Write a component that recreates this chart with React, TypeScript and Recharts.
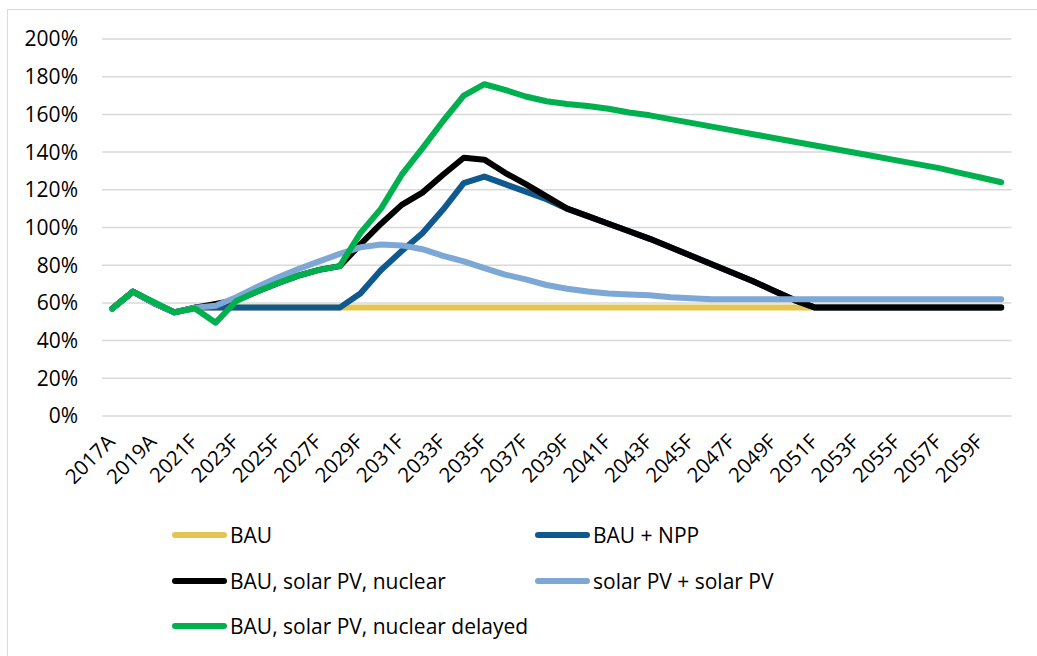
import React from 'react';
import { LineChart, Line, XAxis, YAxis, CartesianGrid } from 'recharts';

const years = [
  '2017A', '2018A', '2019A', '2020A', '2021F', '2022F', '2023F', '2024F', '2025F', '2026F',
  '2027F', '2028F', '2029F', '2030F', '2031F', '2032F', '2033F', '2034F', '2035F', '2036F',
  '2037F', '2038F', '2039F', '2040F', '2041F', '2042F', '2043F', '2044F', '2045F', '2046F',
  '2047F', '2048F', '2049F', '2050F', '2051F', '2052F', '2053F', '2054F', '2055F', '2056F',
  '2057F', '2058F', '2059F', '2060F',
];

const bau = [
  57, 66, 60, 55, 57.5, 57.5, 57.5, 57.5, 57.5, 57.5,
  57.5, 57.5, 57.5, 57.5, 57.5, 57.5, 57.5, 57.5, 57.5, 57.5,
  57.5, 57.5, 57.5, 57.5, 57.5, 57.5, 57.5, 57.5, 57.5, 57.5,
  57.5, 57.5, 57.5, 57.5, 57.5, 57.5, 57.5, 57.5, 57.5, 57.5,
  57.5, 57.5, 57.5, 57.5,
];

const bauNpp = [
  57, 66, 60, 55, 57.5, 57.5, 57.5, 57.5, 57.5, 57.5,
  57.5, 57.5, 65, 77.5, 87.5, 97, 109.5, 123.5, 127, 123,
  119, 115, 110, 106, 102, 98, 94, 89.5, 85, 80.5,
  76, 71.5, 66.5, 61.5, 57.5, 57.5, 57.5, 57.5, 57.5, 57.5,
  57.5, 57.5, 57.5, 57.5,
];

const bauSolarNuclear = [
  57, 66, 60, 55, 57.5, 59.5, 61.5, 66, 70.5, 74.5,
  77.5, 79.5, 91, 102, 112, 118.5, 128, 137, 136, 129,
  123, 116.5, 110, 106, 102, 98, 94, 89.5, 85, 80.5,
  76, 71.5, 66.5, 61.5, 57.5, 57.5, 57.5, 57.5, 57.5, 57.5,
  57.5, 57.5, 57.5, 57.5,
];

const solarPv = [
  57, 66, 60, 55, 57.5, 58.5, 63, 68.5, 73.5, 78,
  82, 86, 89.5, 91, 90.5, 88.5, 85, 82, 78.5, 75,
  72.5, 69.5, 67.5, 66, 65, 64.5, 64, 63, 62.5, 62,
  62, 62, 62, 62, 62, 62, 62, 62, 62, 62,
  62, 62, 62, 62,
];

const delayed = [
  57, 66, 60.5, 55, 57, 49.5, 61, 66, 70.5, 74.5,
  77.5, 79.5, 97, 110, 128, 142, 156.5, 170, 176, 173,
  169.5, 167, 165.5, 164.5, 163, 161, 159.5, 157.5, 155.5, 153.5,
  151.5, 149.5, 147.5, 145.5, 143.5, 141.5, 139.5, 137.5, 135.5, 133.5,
  131.5, 129, 126.5, 124,
];

const yTicks = [0, 20, 40, 60, 80, 100, 120, 140, 160, 180, 200];

const seriesNames = [
  'BAU',
  'BAU + NPP',
  'BAU, solar PV, nuclear',
  'solar PV + solar PV',
  'BAU, solar PV, nuclear delayed',
];
const seriesValues = [bau, bauNpp, bauSolarNuclear, solarPv, delayed];
const seriesColors = ['#E3C551', '#10598F', '#000000', '#7DA8D5', '#00B04F'];

const data = years.map((year, i) => {
  const row: Record<string, string | number> = { year };
  seriesNames.forEach((name, s) => {
    row[name] = seriesValues[s][i];
  });
  return row;
});

const font = '"Open Sans", sans-serif';

const XTick = (props: any) => {
  const { x, y, payload } = props;
  return (
    <text
      x={x + 4}
      y={y + 19}
      textAnchor="end"
      fontSize={20.5}
      fontFamily={font}
      fill="#000"
      transform={`rotate(-45, ${x + 4}, ${y + 19})`}
    >
      {payload.value}
    </text>
  );
};

const legendPos = [
  { left: 172, top: 535 },
  { left: 535, top: 535 },
  { left: 172, top: 580.5 },
  { left: 535, top: 580.5 },
  { left: 172, top: 625.5 },
];

const App: React.FC = () => {
  return (
    <div
      style={{
        position: 'absolute',
        left: 0,
        top: 0,
        width: 1037,
        height: 656,
        overflow: 'hidden',
        background: '#fff',
        fontFamily: font,
      }}
    >
      <div
        style={{
          position: 'absolute',
          left: 7,
          top: 9,
          width: 1100,
          height: 700,
          border: '1.5px solid #d9d9d9',
        }}
      />
      <div style={{ position: 'absolute', left: 0, top: 0 }}>
        <LineChart
          width={1037}
          height={500}
          data={data}
          margin={{ top: 39, right: 25.5, left: 0, bottom: 0 }}
        >
          <CartesianGrid vertical={false} stroke="#d9d9d9" strokeWidth={1.5} />
          <XAxis
            dataKey="year"
            interval={1}
            axisLine={false}
            tickLine={false}
            height={84}
            padding={{ left: 10.3, right: 10.3 }}
            tick={<XTick />}
          />
          <YAxis
            domain={[0, 200]}
            ticks={yTicks}
            width={102}
            axisLine={false}
            tickLine={false}
            tickSize={0}
            tickMargin={24}
            tickFormatter={(v: number) => `${v}%`}
            tick={{ fill: '#000', fontSize: 21, fontFamily: font }}
          />
          {seriesNames.map((name, s) => (
            <Line
              key={name}
              type="linear"
              dataKey={name}
              stroke={seriesColors[s]}
              strokeWidth={6}
              strokeLinejoin="round"
              strokeLinecap="round"
              dot={false}
              isAnimationActive={false}
            />
          ))}
        </LineChart>
      </div>
      {seriesNames.map((name, s) => (
        <div
          key={name}
          style={{
            position: 'absolute',
            left: legendPos[s].left,
            top: legendPos[s].top - 15,
            height: 30,
            display: 'flex',
            alignItems: 'center',
            whiteSpace: 'nowrap',
          }}
        >
          <div
            style={{
              width: 55,
              height: 6,
              borderRadius: 3,
              background: seriesColors[s],
              marginRight: 3,
            }}
          />
          <span style={{ fontSize: 21, color: '#000', lineHeight: '30px' }}>{name}</span>
        </div>
      ))}
    </div>
  );
};

export default App;
